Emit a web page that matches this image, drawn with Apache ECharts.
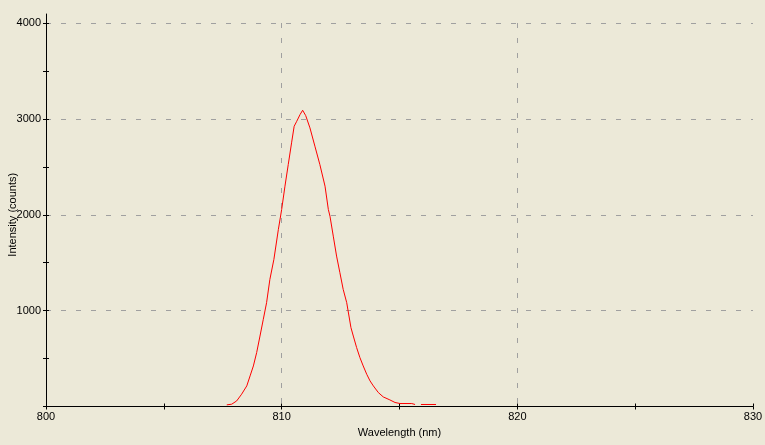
<!DOCTYPE html>
<html>
<head>
<meta charset="utf-8">
<script src="https://cdn.jsdelivr.net/npm/echarts@6/dist/echarts.min.js"></script>
<style>
html,body{margin:0;padding:0;background:#ECE9D8;}
#c{width:765px;height:445px;}
</style>
</head>
<body>
<div id="c"></div>
<script>
// Wavelength (nm)
var wavelengths = [807.67,807.88,808.09,808.30,808.52,808.66,808.80,808.94,809.08,809.22,809.36,809.50,809.67,809.86,810.00,810.14,810.28,810.42,810.53,810.64,810.78,810.89,811.02,811.20,811.41,811.62,811.84,811.98,812.05,812.19,812.33,812.47,812.61,812.76,812.94,813.04,813.18,813.32,813.46,813.61,813.75,813.89,814.10,814.31,814.59,814.81,815.02,815.52,815.66,815.78,815.91,816.55];
// Intensity (counts)
var counts = [17,24,58,128,215,319,423,563,735,909,1083,1326,1534,1847,2055,2298,2524,2750,2923,2975,3045,3090,3034,2906,2715,2524,2298,2055,1985,1777,1569,1396,1222,1083,823,735,615,510,423,336,267,215,146,100,69,42,31,31,21,null,21,21];
var xTicks = [800,810,820,830];
var yTicks = [1000,2000,3000,4000];

var FONT = 'Liberation Sans';
var data = wavelengths.map(function(w,i){return [w,counts[i]];});

var chart = echarts.init(document.getElementById('c'), null, {renderer:'canvas'});
chart.setOption({
  backgroundColor:'#ECE9D8',
  animation:false,
  textStyle:{fontFamily:FONT},
  grid:[
    {left:46, right:12, top:23, bottom:38.5, containLabel:false, outerBoundsMode:'none'},
    {left:46, right:12, top:14, bottom:38.5, containLabel:false, outerBoundsMode:'none'}
  ],
  xAxis:[
    {type:'value', gridIndex:0, position:'bottom', min:800, max:830, interval:10,
     name:'Wavelength (nm)', nameLocation:'middle', nameGap:19,
     nameTextStyle:{color:'#000', fontSize:11, fontFamily:FONT},
     axisLine:{show:true, lineStyle:{color:'#000', width:1}},
     axisTick:{show:true, inside:false, length:3, lineStyle:{color:'#000'}},
     minorTick:{show:true, splitNumber:2, length:3, lineStyle:{color:'#000'}},
     axisLabel:{color:'#000', fontSize:11, fontFamily:FONT, margin:5,
       formatter:function(v){return xTicks.indexOf(v)>=0 ? String(v) : '';}},
     splitLine:{show:true, lineStyle:{color:'#A0A0A0', width:1, type:[5,10]}, showMinLine:false, showMaxLine:false}
    },
    {type:'value', gridIndex:0, position:'bottom', min:800, max:830, interval:10,
     axisLine:{show:false},
     axisTick:{show:true, inside:true, length:3, lineStyle:{color:'#000'}},
     minorTick:{show:true, splitNumber:2, length:3, lineStyle:{color:'#000'}},
     axisLabel:{show:false}, splitLine:{show:false}
    },
    {type:'value', gridIndex:1, min:800, max:830, show:false}
  ],
  yAxis:[
    {type:'value', gridIndex:0, position:'left', min:0, max:4000, interval:1000,
     name:'Intensity (counts)', nameLocation:'middle', nameGap:28, nameRotate:90, nameMoveOverlap:false,
     nameTextStyle:{color:'#000', fontSize:11, fontFamily:FONT},
     axisLine:{show:false},
     axisTick:{show:true, inside:false, length:3, lineStyle:{color:'#000'}},
     minorTick:{show:true, splitNumber:2, length:3, lineStyle:{color:'#000'}},
     axisLabel:{color:'#000', fontSize:11, fontFamily:FONT, margin:5,
       formatter:function(v){return yTicks.indexOf(v)>=0 ? String(v) : '';}},
     splitLine:{show:true, lineStyle:{color:'#A0A0A0', width:1, type:[5,10]}, showMinLine:false, showMaxLine:true}
    },
    {type:'value', gridIndex:0, position:'left', offset:0, min:0, max:4000, interval:1000,
     axisLine:{show:false},
     axisTick:{show:true, inside:true, length:3, lineStyle:{color:'#000'}},
     minorTick:{show:true, splitNumber:2, length:3, lineStyle:{color:'#000'}},
     axisLabel:{show:false}, splitLine:{show:false}
    },
    {type:'value', gridIndex:1, position:'left', min:0, max:4096,
     axisLine:{show:true, lineStyle:{color:'#000', width:1}},
     axisTick:{show:false}, axisLabel:{show:false}, splitLine:{show:false}
    }
  ],
  series:[{
    type:'line', xAxisIndex:0, yAxisIndex:0,
    data:data, showSymbol:false, symbol:'none', smooth:false, connectNulls:false,
    lineStyle:{color:'#FF0000', width:1}, itemStyle:{color:'#FF0000'}
  }]
});
</script>
</body>
</html>
